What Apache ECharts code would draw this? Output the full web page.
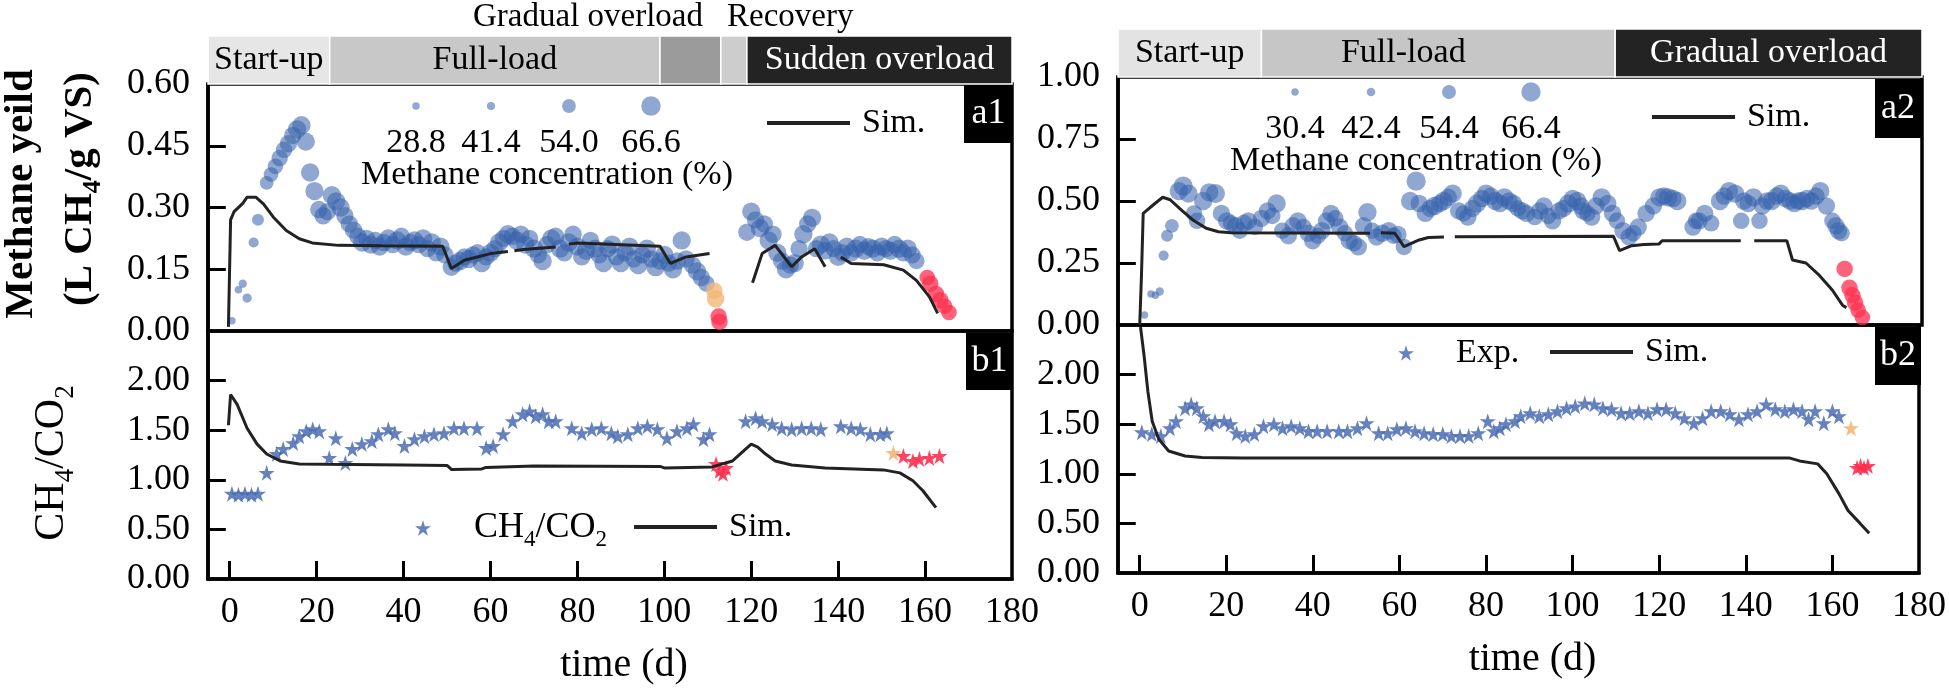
<!DOCTYPE html>
<html>
<head>
<meta charset="utf-8">
<script src="https://cdn.jsdelivr.net/npm/echarts@6/dist/echarts.min.js"></script>
<style>
html, body { margin: 0; padding: 0; background: #fff; }
#main { width: 1949px; height: 698px; }
</style>
</head>
<body>
<div id="main"></div>
<script>
// ---- data ----
var xTickLabels = [0, 20, 40, 60, 80, 100, 120, 140, 160, 180];
var xTickMarks = [0, 20, 40, 60, 80, 100, 120, 140, 160];
var yieldLabelsA1 = [0, 0.15, 0.30, 0.45, 0.60];
var yieldTicksA1 = [0.15, 0.30, 0.45];
var yieldLabelsA2 = [0, 0.25, 0.50, 0.75, 1.00];
var yieldTicksA2 = [0.25, 0.50, 0.75];
var ratioLabels = [0, 0.5, 1.0, 1.5, 2.0];
var ratioTicks = [0.5, 1.0, 1.5, 2.0];

var leftPhases = [['Start-up', -5, 23], ['Full-load', 23, 99], ['', 99, 113], ['', 113, 119], ['Sudden overload', 119, 180]];
var rightPhases = [['Start-up', -5, 28], ['Full-load', 28, 109.4], ['Gradual overload', 109.4, 180]];

var concLegendLeft = [28.8, 41.4, 54.0, 66.6];
var concLegendRight = [30.4, 42.4, 54.4, 66.4];

// [day, methane yield, methane concentration %]
var a1Exp = [
  [0.5,0.025,34],[2,0.10,40],[3,0.115,42],[4,0.08,44],[5.5,0.215,46],[6.5,0.27,50],[8.5,0.36,54],[9.5,0.38,56],
  [10.5,0.40,58],[11.5,0.42,60],[12.5,0.44,60],[13.5,0.455,62],[14.5,0.475,62],[15.5,0.49,64],[16.5,0.50,64],
  [17.5,0.46,64],[18.5,0.385,64],[19.5,0.34,64],[20.5,0.295,62],[21.5,0.28,62],[22.5,0.29,62],[23.5,0.33,64],
  [24.5,0.315,64],[25.5,0.30,64],[26.5,0.28,62],[27.5,0.26,62],[28.5,0.245,62],
  [29.5,0.23,62],[30.5,0.215,64],[31.5,0.225,62],[32.5,0.21,64],[33.5,0.22,62],[34.5,0.205,64],[35.5,0.215,62],
  [36.5,0.225,64],[37.5,0.21,62],[38.5,0.22,64],[39.5,0.23,62],[40.5,0.205,64],[41.5,0.215,62],[42.5,0.22,64],
  [43.5,0.21,62],[44.5,0.225,64],[45.5,0.20,62],[46.5,0.215,64],[47.5,0.19,62],[48.5,0.205,64],[49.5,0.185,62],
  [51,0.155,62],[52,0.165,62],[53,0.17,64],[54,0.18,62],[55,0.175,64],[56,0.185,62],[57,0.19,62],[58,0.165,64],
  [59,0.18,62],[60,0.19,64],[61,0.20,62],[62,0.215,64],[63,0.225,62],[64,0.235,64],[65,0.23,62],[66,0.22,64],
  [67,0.235,62],[68,0.21,64],[69,0.225,62],[70,0.20,64],[71,0.185,62],[72,0.17,64],[73,0.21,62],[74,0.225,64],
  [75,0.23,62],[76,0.20,64],[77,0.19,62],[78,0.215,64],[79,0.235,62],[80,0.205,64],[81,0.18,62],[82,0.195,64],
  [83,0.22,62],[84,0.20,64],[85,0.185,62],[86,0.165,64],[87,0.20,62],[88,0.21,64],[89,0.18,62],[90,0.165,64],
  [91,0.19,62],[92,0.205,64],[93,0.175,62],[94,0.16,64],[95,0.185,62],[96,0.20,64],[97,0.175,62],[98,0.155,64],
  [99,0.17,62],[100,0.185,64],[101,0.165,62],[102,0.15,64],[103,0.17,62],[104,0.22,64],[105,0.175,62],
  [106.5,0.16,62],[107.5,0.145,64],[108.5,0.13,62],[109.7,0.115,60],
  [119,0.24,62],[120,0.29,64],[121,0.27,62],[122,0.25,64],[123,0.26,62],[124,0.22,64],[125,0.235,62],
  [126,0.19,64],[127,0.17,62],[128,0.15,64],[129,0.16,62],[130,0.165,64],[131,0.20,62],[132,0.235,64],
  [133,0.26,62],[134,0.275,64],[135,0.20,62],[136,0.21,64],[137,0.195,62],[138,0.215,64],[139,0.20,62],
  [140,0.18,64],[141,0.19,62],[142,0.205,64],[143,0.19,62],[144,0.20,64],[145,0.21,62],[146,0.195,64],
  [147,0.205,62],[148,0.20,64],[149,0.19,62],[150,0.205,64],[151,0.20,62],[152,0.195,64],[153,0.21,62],
  [154,0.20,64],[155,0.19,62],[156,0.20,64],[157,0.185,62],[158,0.17,60]
];
var a1Warn = [[111.5,0.098,60],[111.8,0.078,62]];
var a1Fail = [[112.5,0.035,60],[112.7,0.022,60],[160.5,0.13,58],[161.2,0.115,60],[162.5,0.09,60],[163.5,0.075,60],[164.5,0.06,58],[165.5,0.045,58]];
var a1Sim = [
  [-0.3,0.01],[0,0.01],[0.2,0.27],[1,0.29],[3,0.31],[4,0.325],[6,0.325],[7.8,0.308],[10,0.277],[13,0.244],
  [16,0.224],[19,0.214],[25,0.208],[35,0.207],[49,0.206],[51,0.152],[54,0.172],[60,0.188],[64,0.193],
  [64.5,null],[65.5,0.195],[67.5,0.198],[75,0.204],[76,null],[78,0.211],[80,0.214],[99,0.206],[101.4,0.164],
  [105,0.18],[110.4,0.188],[111,null],[120.3,0.117],[122.5,0.188],[125.5,0.208],[129.3,0.156],[131.6,0.18],
  [134.6,0.20],[137,0.156],[138,null],[140.6,0.18],[143,0.164],[150.5,0.161],[155,0.148],[158,0.123],
  [161,0.083],[162.9,0.043]
];

// [day, CH4/CO2]
var b1Exp = [
  [0.5,0.86],[2,0.85],[3.5,0.86],[5,0.85],[6.5,0.86],[8.5,1.07],[10.8,1.26],[12.3,1.31],[14.6,1.37],[16,1.44],
  [17.6,1.49],[19.1,1.51],[20.6,1.49],[22.9,1.22],[24.4,1.42],[26.6,1.17],[28.2,1.31],[30.4,1.36],[32.7,1.39],
  [34.2,1.46],[36.5,1.51],[38,1.47],[40.2,1.34],[42.5,1.41],[44.8,1.44],[47,1.46],[49.3,1.47],[51.6,1.52],
  [53.9,1.52],[56.9,1.52],[59,1.32],[60.6,1.34],[62.9,1.46],[65.1,1.59],[67.4,1.66],[69,1.69],[70.4,1.64],
  [72,1.66],[73.4,1.59],[75,1.59],[78.7,1.52],[81,1.47],[83.3,1.51],[85.5,1.52],[87.8,1.47],[89.3,1.44],
  [91.6,1.46],[93.9,1.52],[96.1,1.54],[98.4,1.51],[100.6,1.42],[102.9,1.49],[105.2,1.52],[106.7,1.56],
  [109,1.41],[110.4,1.46],
  [118.7,1.59],[121,1.62],[122.5,1.59],[124.8,1.56],[127,1.52],[129.3,1.51],[131.6,1.52],[133.8,1.52],
  [136,1.51],[140.6,1.54],[143,1.52],[145.1,1.51],[147.4,1.46],[149.7,1.46],[151.2,1.47]
];
var b1Warn = [[152.7,1.27]];
var b1Fail = [[111.9,1.16],[112.7,1.09],[113.5,1.06],[114.2,1.12],[155,1.24],[157.2,1.19],[158.7,1.21],[161,1.22],[163.3,1.24]];
var b1Sim = [
  [-0.3,1.55],[0.2,1.86],[1.7,1.76],[4,1.52],[6.3,1.36],[8.5,1.26],[11.6,1.19],[16,1.16],[22,1.157],[40,1.15],
  [50,1.145],[51,1.105],[58,1.11],[59,1.125],[70,1.14],[99,1.135],[100,1.12],[111,1.13],[115.7,1.19],
  [118.7,1.31],[120,1.36],[121.5,1.33],[123.3,1.26],[125.5,1.19],[129.3,1.15],[137,1.12],[150.4,1.10],
  [154.2,1.07],[157.2,0.99],[159.5,0.89],[162.5,0.72]
];

var a2Exp = [
  [1.1,0.04,34],[2.6,0.125,40],[3.6,0.12,40],[4.6,0.135,42],[5.5,0.28,46],[6.3,0.36,50],[7.4,0.40,54],
  [9,0.54,64],[10,0.56,66],[11.2,0.53,64],[12.5,0.45,60],[13.2,0.42,60],[14.6,0.50,64],[16,0.535,64],
  [17.4,0.53,66],[18.8,0.45,62],[20,0.42,62],[21,0.41,60],[22,0.40,62],[23,0.38,60],[24,0.41,62],[25,0.42,62],
  [26.5,0.395,60],[28,0.43,62],[29.4,0.46,62],[30.5,0.44,60],[31.5,0.49,64],[32.8,0.38,60],[34.2,0.36,62],
  [35.3,0.40,62],[36.4,0.42,62],[37.7,0.395,60],[38.8,0.37,62],[39.8,0.34,62],[41,0.36,60],[41.9,0.38,62],
  [43,0.42,62],[44,0.45,62],[45,0.43,60],[46,0.395,62],[47.2,0.37,60],[48.2,0.34,62],[49.3,0.33,60],
  [50.3,0.315,62],[51.5,0.40,62],[52.4,0.455,64],[53.5,0.38,60],[54.5,0.355,62],[55.8,0.37,62],[57.3,0.38,62],
  [58.4,0.36,60],[59.4,0.365,62],[60.8,0.315,60],[62.2,0.50,64],[63.6,0.58,66],[64.3,0.49,62],[65.7,0.45,62],
  [66.8,0.47,62],[67.8,0.48,64],[69,0.49,62],[69.9,0.50,64],[71,0.515,62],[72,0.53,64],[73.4,0.46,62],
  [74.5,0.45,60],[75.5,0.435,62],[76.6,0.47,62],[77.6,0.49,64],[78.7,0.51,62],[79.7,0.53,64],[80.8,0.52,62],
  [81.8,0.50,64],[82.9,0.49,62],[83.9,0.515,64],[85,0.50,62],[86,0.49,62],[87,0.47,60],[88,0.46,62],
  [89,0.45,62],[90.9,0.435,60],[92,0.46,62],[93,0.48,62],[94,0.44,60],[95,0.42,62],[96.5,0.46,62],
  [97.5,0.47,62],[98.6,0.49,64],[99.6,0.51,62],[100.7,0.50,64],[101.5,0.48,62],[102,0.46,62],[103,0.45,60],
  [104,0.435,62],[105,0.48,62],[106.3,0.515,64],[107.7,0.49,62],[108.8,0.45,62],[109.8,0.42,60],
  [111.2,0.38,62],[112.6,0.355,62],[113.6,0.37,60],[114.7,0.395,62],[116.5,0.45,62],[118.2,0.48,62],
  [119.6,0.515,64],[120.6,0.52,62],[121.6,0.515,64],[122.7,0.51,62],[123.7,0.50,64],[127.3,0.395,62],
  [128,0.42,60],[128.7,0.42,62],[130,0.45,62],[131.5,0.41,60],[133.5,0.50,64],[134.5,0.52,62],[135.6,0.54,64],
  [137,0.53,64],[138.4,0.42,60],[139,0.50,62],[140,0.49,62],[141.2,0.515,64],[142.6,0.42,60],[143.3,0.48,62],
  [144.3,0.50,62],[145.4,0.50,64],[146.5,0.52,62],[147.5,0.53,64],[148.6,0.51,62],[149.6,0.50,62],
  [150.6,0.49,62],[151.5,0.50,62],[152.4,0.50,64],[153.5,0.51,62],[154.5,0.50,62],[155.6,0.52,62],
  [156.6,0.54,64],[158,0.48,62],[159.4,0.42,60],[160.2,0.40,62],[160.8,0.38,62],[161.5,0.37,60]
];
var a2Fail = [[162.2,0.226,60],[163.3,0.15,60],[164,0.12,60],[164.6,0.09,60],[165.3,0.06,58],[166.3,0.03,58]];
var a2Sim = [
  [0,0.0],[0.4,0.2],[0.8,0.45],[3.5,0.49],[5.3,0.515],[7,0.505],[9.8,0.46],[12.5,0.42],[15.3,0.39],[18.1,0.376],
  [21,0.372],[53,0.37],[53.5,null],[55.5,0.372],[58.7,0.37],[60.8,0.316],[64.3,0.343],[66.4,0.353],[70,0.355],
  [70.5,null],[72.5,0.356],[109,0.358],[110.4,0.30],[113.2,0.32],[116,0.325],[119.5,0.327],[120.2,0.34],
  [138.3,0.34],[139,null],[141.4,0.34],[148.9,0.34],[150.2,0.262],[153.3,0.25],[156.4,0.20],[159.4,0.14],
  [161.7,0.08],[162.6,0.07]
];

var b2Exp = [
  [0.5,1.42],[2.8,1.40],[4.9,1.38],[7,1.46],[8.4,1.53],[10.5,1.66],[11.9,1.70],[13.2,1.66],[14.7,1.58],[16,1.50],
  [17.4,1.53],[19.5,1.53],[21,1.50],[22.4,1.41],[24.4,1.38],[26.5,1.40],[28.6,1.48],[31,1.50],[33,1.46],
  [35,1.48],[37,1.46],[39,1.43],[41,1.43],[43.3,1.43],[46,1.43],[48,1.43],[50.3,1.46],[52.4,1.51],[55.2,1.41],
  [57.3,1.41],[59.4,1.45],[61.5,1.46],[63.6,1.43],[65.7,1.41],[67.8,1.40],[70,1.40],[72,1.38],[74,1.38],
  [76,1.38],[78.2,1.41],[80.4,1.53],[81.8,1.43],[83.2,1.46],[84.6,1.50],[86.7,1.53],[88,1.58],[90.2,1.61],
  [92.3,1.58],[94.4,1.60],[96.5,1.63],[98.6,1.66],[100.6,1.68],[102.8,1.71],[105,1.70],[107,1.66],[109,1.65],
  [111.2,1.61],[113.2,1.61],[115.3,1.63],[117.4,1.61],[119.5,1.65],[121.6,1.65],[123.7,1.61],[125.8,1.56],
  [128,1.51],[130,1.56],[132,1.63],[134.2,1.63],[136.3,1.60],[138.4,1.55],[140.5,1.60],[142.6,1.63],
  [144.7,1.70],[146.8,1.65],[149,1.63],[151,1.65],[153,1.63],[154.5,1.55],[156,1.63],[158,1.51],[160,1.63],
  [161.5,1.58]
];
var b2Warn = [[164.3,1.46]];
var b2Fail = [[165.7,1.06],[166.5,1.08],[167.3,1.06],[168.2,1.08]];
var b2Sim = [
  [0.2,2.48],[1,2.2],[1.9,1.83],[2.9,1.53],[4.4,1.35],[6.7,1.23],[10.5,1.18],[14.4,1.165],[23.7,1.16],
  [150,1.16],[152.4,1.13],[156.6,1.10],[158.7,1.0],[161.5,0.80],[163.6,0.63],[166.4,0.50],[168.5,0.40]
];

// ---- style ----
var FONT = '"Liberation Serif", "Times New Roman", serif';
var STAR = 'path://M50,2 L61,36 L97,36 L68,57 L79,92 L50,71 L21,92 L32,57 L3,36 L39,36 Z';
var BAR = 'path://M0,0 L100,0 L100,4 L0,4 Z';
var BLUE = '#3560ac';
var STARBLUE = '#4a6cb3';
var RED = '#ff2f4f';
var PEACH = '#f3b677';
var leftPhaseColors = ['#e6e6e6', '#c8c8c8', '#9b9b9b', '#cdcdcd', '#232323'];
var rightPhaseColors = ['#e3e3e3', '#c6c6c6', '#232323'];
var X_MIN = -5, X_MAX = 180;
var TICK_DAYS = 4.1; // inward y tick length, in days (about 18 px)

function bubbleSize(v) { return 7.5 + Math.max(0, v[2] - 40) * 0.45; }
function two(v) { return v.toFixed(2); }

var myChart = echarts.init(document.getElementById('main'));

var grids = [
  { left: 208, top: 84, width: 804, height: 247 },
  { left: 208, top: 331, width: 804, height: 248 },
  { left: 1118, top: 77, width: 804, height: 248 },
  { left: 1118, top: 325, width: 804, height: 248 },
  { left: 208, top: 36, width: 804, height: 48 },
  { left: 1118, top: 29, width: 804, height: 48 }
];
grids.forEach(function (g, i) {
  g.show = i < 4;
  g.borderColor = '#000';
  g.borderWidth = 3.5;
  g.backgroundColor = 'transparent';
});

var axisLineStyle = { color: '#000', width: 3.5 };

function timeAxis(idx, bottom) {
  var ax = {
    gridIndex: idx, type: 'value', min: X_MIN, max: X_MAX, position: 'bottom',
    axisLine: { show: bottom, onZero: false, lineStyle: axisLineStyle },
    splitLine: { show: false },
    axisTick: { show: bottom, inside: true, length: 18, lineStyle: { color: '#000', width: 3 }, customValues: xTickMarks },
    axisLabel: { show: bottom, customValues: xTickLabels, fontFamily: FONT, fontSize: 36, color: '#000', margin: 16 }
  };
  if (bottom) {
    ax.name = 'time (d)';
    ax.nameLocation = 'middle';
    ax.nameGap = 66;
    ax.nameTextStyle = { fontFamily: FONT, fontSize: 40, color: '#000', padding: [0, 0, 0, 28] };
  }
  return ax;
}

function valueAxis(idx, max, labels) {
  return {
    gridIndex: idx, type: 'value', min: 0, max: max, position: 'left',
    axisLine: { show: true, onZero: false, lineStyle: axisLineStyle },
    splitLine: { show: false },
    axisTick: { show: false },
    axisLabel: { customValues: labels, formatter: two, fontFamily: FONT, fontSize: 36, color: '#000', margin: 18, padding: [0, 0, 10, 0] }
  };
}

// inward y ticks drawn through the grid's own scales
function yTickSeries(idx, ticks) {
  return {
    type: 'line', xAxisIndex: idx, yAxisIndex: idx, data: [], silent: true,
    markLine: {
      silent: true, symbol: ['none', 'none'], label: { show: false },
      lineStyle: { color: '#000', width: 3, type: 'solid' },
      data: ticks.map(function (v) { return [{ coord: [X_MIN, v] }, { coord: [X_MIN + TICK_DAYS, v] }]; })
    }
  };
}

function phaseAxisY(idx) {
  return { gridIndex: idx, type: 'value', min: 0, max: 1, show: false };
}
function phaseAxisX(idx) {
  return { gridIndex: idx, type: 'value', min: X_MIN, max: X_MAX, show: false };
}

function phaseSeries(idx, phases, colors, offsets) {
  return {
    type: 'line', xAxisIndex: idx, yAxisIndex: idx, data: [], silent: true,
    markArea: {
      silent: true,
      data: phases.map(function (p, i) {
        return [{
          xAxis: p[1],
          itemStyle: { color: colors[i], borderColor: '#fff', borderWidth: 1.5 },
          label: {
            show: p[0] !== '', position: 'inside', formatter: p[0],
            color: colors[i] === '#232323' ? '#fff' : '#000',
            fontFamily: FONT, fontSize: 34, offset: offsets[i] || [0, 0]
          }
        }, { xAxis: p[2] }];
      })
    }
  };
}

function bubbles(name, idx, data, color, opacity) {
  return {
    name: name, type: 'scatter', xAxisIndex: idx, yAxisIndex: idx, data: data,
    symbol: 'circle', symbolSize: bubbleSize,
    itemStyle: { color: color, opacity: opacity }, z: 3
  };
}
function stars(name, idx, data, color, opacity) {
  return {
    name: name, type: 'scatter', xAxisIndex: idx, yAxisIndex: idx, data: data,
    symbol: STAR, symbolSize: 16,
    itemStyle: { color: color, opacity: opacity }, z: 3
  };
}
function simLine(idx, data) {
  return {
    name: 'Sim.', type: 'line', xAxisIndex: idx, yAxisIndex: idx, data: data,
    symbol: 'none', connectNulls: false,
    lineStyle: { color: '#222', width: 3 }, itemStyle: { color: '#222' }, z: 4
  };
}

var legendText = { fontFamily: FONT, fontSize: 34, color: '#000', lineHeight: 40, padding: [0, 0, 0, 7] };
var subRich = {
  n: { fontFamily: FONT, fontSize: 36, color: '#000', lineHeight: 46 },
  s: { fontFamily: FONT, fontSize: 23, color: '#000', lineHeight: 23, verticalAlign: 'bottom' }
};

function simLegend(left, top) {
  return {
    data: [{ name: 'Sim.', icon: BAR, itemStyle: { color: '#222' } }],
    left: left, top: top, itemWidth: 83, itemHeight: 4, symbolKeepAspect: false,
    selectedMode: false, textStyle: legendText, padding: 0
  };
}
function starLegend(name, left, top, rich, pad) {
  var lg = {
    data: [{ name: name, icon: STAR }], left: left, top: top, itemWidth: 16, itemHeight: 16,
    selectedMode: false, padding: 0,
    textStyle: { fontFamily: FONT, fontSize: 34, color: '#000', lineHeight: 40, padding: [0, 0, 0, pad] }
  };
  if (rich) {
    lg.formatter = function () { return '{n|CH}{s|4}{n|/CO}{s|2}'; };
    lg.textStyle.rich = subRich;
    lg.textStyle.lineHeight = 46;
  }
  return lg;
}

// size legend + labels drawn as graphic
var graphics = [];
function sizeLegend(xs, y, values, titleX) {
  values.forEach(function (c, i) {
    var s = bubbleSize([0, 0, c]);
    graphics.push({ type: 'circle', shape: { cx: xs[i], cy: y, r: s / 2 }, style: { fill: BLUE, opacity: 0.55 }, z: 10 });
    graphics.push({ type: 'text', x: xs[i], y: y + 37, style: { text: c.toFixed(1), fontFamily: FONT, fontSize: 34, fill: '#000', align: 'center', verticalAlign: 'middle' }, z: 10 });
  });
  graphics.push({ type: 'text', x: titleX, y: y + 69, style: { text: 'Methane concentration (%)', fontFamily: FONT, fontSize: 34, fill: '#000', align: 'center', verticalAlign: 'middle' }, z: 10 });
}
sizeLegend([416, 491, 569, 651], 106, concLegendLeft, 547);
sizeLegend([1295, 1371, 1449, 1531], 92, concLegendRight, 1416);

function tag(text, x, y, w, h) {
  graphics.push({ type: 'rect', shape: { x: x, y: y, width: w, height: h }, style: { fill: '#000' }, z: 20 });
  graphics.push({ type: 'text', x: x + w / 2, y: y + h / 2, style: { text: text, fontFamily: FONT, fontSize: 36, fill: '#fff', align: 'center', verticalAlign: 'middle' }, z: 21 });
}
tag('a1', 964, 85, 49, 58);
tag('b1', 966, 333, 47, 57);
tag('a2', 1875, 79, 46, 59);
tag('b2', 1875, 327, 46, 58);

graphics.push({ type: 'text', x: 703, y: 17, style: { text: 'Gradual overload', fontFamily: FONT, fontSize: 33, fill: '#000', align: 'right', verticalAlign: 'middle' } });
graphics.push({ type: 'text', x: 727, y: 17, style: { text: 'Recovery', fontFamily: FONT, fontSize: 33, fill: '#000', align: 'left', verticalAlign: 'middle' } });

graphics.push({ type: 'text', x: 21, y: 194, rotation: Math.PI / 2, style: { text: 'Methane yeild', font: 'bold 41px "Liberation Serif"', fill: '#000', align: 'center', verticalAlign: 'middle' } });
graphics.push({ type: 'text', x: 80, y: 189, rotation: Math.PI / 2, style: {
  text: '{b|(L CH}{bs|4}{b|/g VS)}', align: 'center', verticalAlign: 'middle', fill: '#000',
  rich: {
    b: { fontFamily: FONT, fontSize: 41, fontWeight: 'bold', lineHeight: 52 },
    bs: { fontFamily: FONT, fontSize: 26, fontWeight: 'bold', lineHeight: 26, verticalAlign: 'bottom' }
  }
} });
graphics.push({ type: 'text', x: 52, y: 463, rotation: Math.PI / 2, style: {
  text: '{n|CH}{s|4}{n|/CO}{s|2}', align: 'center', verticalAlign: 'middle', fill: '#000',
  rich: {
    n: { fontFamily: FONT, fontSize: 42, lineHeight: 54 },
    s: { fontFamily: FONT, fontSize: 27, lineHeight: 27, verticalAlign: 'bottom' }
  }
} });

var option = {
  animation: false,
  backgroundColor: '#fff',
  grid: grids,
  xAxis: [timeAxis(0, false), timeAxis(1, true), timeAxis(2, false), timeAxis(3, true), phaseAxisX(4), phaseAxisX(5)],
  yAxis: [
    valueAxis(0, 0.6, yieldLabelsA1),
    valueAxis(1, 2.5, ratioLabels),
    valueAxis(2, 1.0, yieldLabelsA2),
    valueAxis(3, 2.5, ratioLabels),
    phaseAxisY(4), phaseAxisY(5)
  ],
  legend: [
    simLegend(767, 103),
    simLegend(1652, 97),
    starLegend('CH4/CO2', 415, 505, true, 38),
    simLegend(634, 507),
    starLegend('Exp.', 1398, 333, false, 37),
    simLegend(1550, 332)
  ],
  graphic: graphics,
  series: [
    phaseSeries(4, leftPhases, leftPhaseColors, []),
    phaseSeries(5, rightPhases, rightPhaseColors, [null, [-35, 0]]),
    yTickSeries(0, yieldTicksA1),
    yTickSeries(1, ratioTicks),
    yTickSeries(2, yieldTicksA2),
    yTickSeries(3, ratioTicks),
    bubbles('a1 exp', 0, a1Exp, BLUE, 0.55),
    bubbles('a1 warn', 0, a1Warn, PEACH, 0.8),
    bubbles('a1 fail', 0, a1Fail, RED, 0.75),
    simLine(0, a1Sim),
    stars('CH4/CO2', 1, b1Exp, STARBLUE, 0.85),
    stars('b1 warn', 1, b1Warn, PEACH, 0.9),
    stars('b1 fail', 1, b1Fail, RED, 0.9),
    simLine(1, b1Sim),
    bubbles('a2 exp', 2, a2Exp, BLUE, 0.55),
    bubbles('a2 fail', 2, a2Fail, RED, 0.75),
    simLine(2, a2Sim),
    stars('Exp.', 3, b2Exp, STARBLUE, 0.85),
    stars('b2 warn', 3, b2Warn, PEACH, 0.9),
    stars('b2 fail', 3, b2Fail, RED, 0.9),
    simLine(3, b2Sim)
  ]
};

myChart.setOption(option);
</script>
</body>
</html>
